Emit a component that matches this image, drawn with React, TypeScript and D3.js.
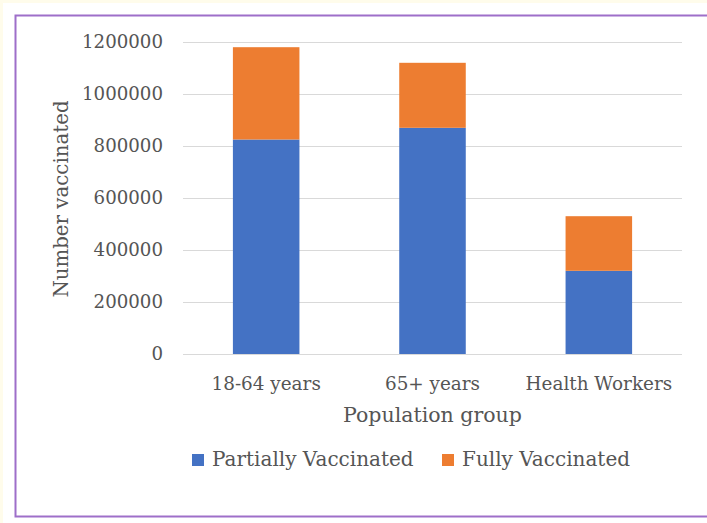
import React from "react";
import * as d3 from "d3";

const categories = ["18-64 years", "65+ years", "Health Workers"];
const partiallyVaccinated = [825000, 870000, 320000];
const fullyVaccinated = [355000, 250000, 210000];
const yTicks = [0, 200000, 400000, 600000, 800000, 1000000, 1200000];
const seriesNames = ["Partially Vaccinated", "Fully Vaccinated"];
const seriesColors = ["#4472C4", "#ED7D31"];

const W = 707;
const H = 523;
const plot = { left: 183, right: 682, top: 42, bottom: 354 };
const font = "'DejaVu Serif', serif";
const textColor = "#555555";

export default function App() {
  const x = d3
    .scaleBand<string>()
    .domain(categories)
    .range([plot.left, plot.right])
    .paddingInner(0.6)
    .paddingOuter(0.3);
  const y = d3.scaleLinear().domain([0, 1200000]).range([plot.bottom, plot.top]);

  const rows = categories.map((c, i) => ({
    cat: c,
    partial: partiallyVaccinated[i],
    full: fullyVaccinated[i],
  }));
  const stack = d3.stack<any>().keys(["partial", "full"])(rows);

  return (
    <svg
      width={W}
      height={H}
      style={{ position: "absolute", left: 0, top: 0 }}
      fontFamily={font}
    >
      <rect x={0} y={0} width={W} height={H} fill="#FFFCEB" />
      <rect x={3} y={3} width={W} height={H} fill="#FFFFFF" />
      <rect
        x={15.5}
        y={15.5}
        width={W}
        height={501}
        fill="none"
        stroke="#9E6FC9"
        strokeWidth={2}
      />
      {yTicks.map((t) => (
        <g key={t}>
          <line
            x1={plot.left}
            x2={plot.right}
            y1={Math.round(y(t)) + 0.5}
            y2={Math.round(y(t)) + 0.5}
            stroke="#D9D9D9"
            strokeWidth={1.2}
          />
          <text
            x={163}
            y={y(t)}
            dy="0.35em"
            textAnchor="end"
            fontSize={18.2}
            fill={textColor}
          >
            {t}
          </text>
        </g>
      ))}
      {stack.map((s, si) => (
        <g key={si} fill={seriesColors[si]}>
          {s.map((d, i) => (
            <rect
              key={i}
              x={x(categories[i])}
              width={x.bandwidth()}
              y={y(d[1])}
              height={y(d[0]) - y(d[1])}
            />
          ))}
        </g>
      ))}
      {categories.map((c) => (
        <text
          key={c}
          x={(x(c) as number) + x.bandwidth() / 2}
          y={390}
          textAnchor="middle"
          fontSize={18.4}
          fill={textColor}
        >
          {c}
        </text>
      ))}
      <text
        x={(plot.left + plot.right) / 2}
        y={422}
        textAnchor="middle"
        fontSize={20.5}
        fill={textColor}
      >
        Population group
      </text>
      <text
        transform={`translate(68, ${(plot.top + plot.bottom) / 2 + 1}) rotate(-90)`}
        textAnchor="middle"
        fontSize={19.8}
        fill={textColor}
      >
        Number vaccinated
      </text>
      {seriesNames.map((n, i) => {
        const lx = i === 0 ? 192 : 442;
        return (
          <g key={n}>
            <rect x={lx} y={454} width={12} height={12} fill={seriesColors[i]} />
            <text x={lx + 20} y={466} fontSize={20} fill={textColor}>
              {n}
            </text>
          </g>
        );
      })}
    </svg>
  );
}
